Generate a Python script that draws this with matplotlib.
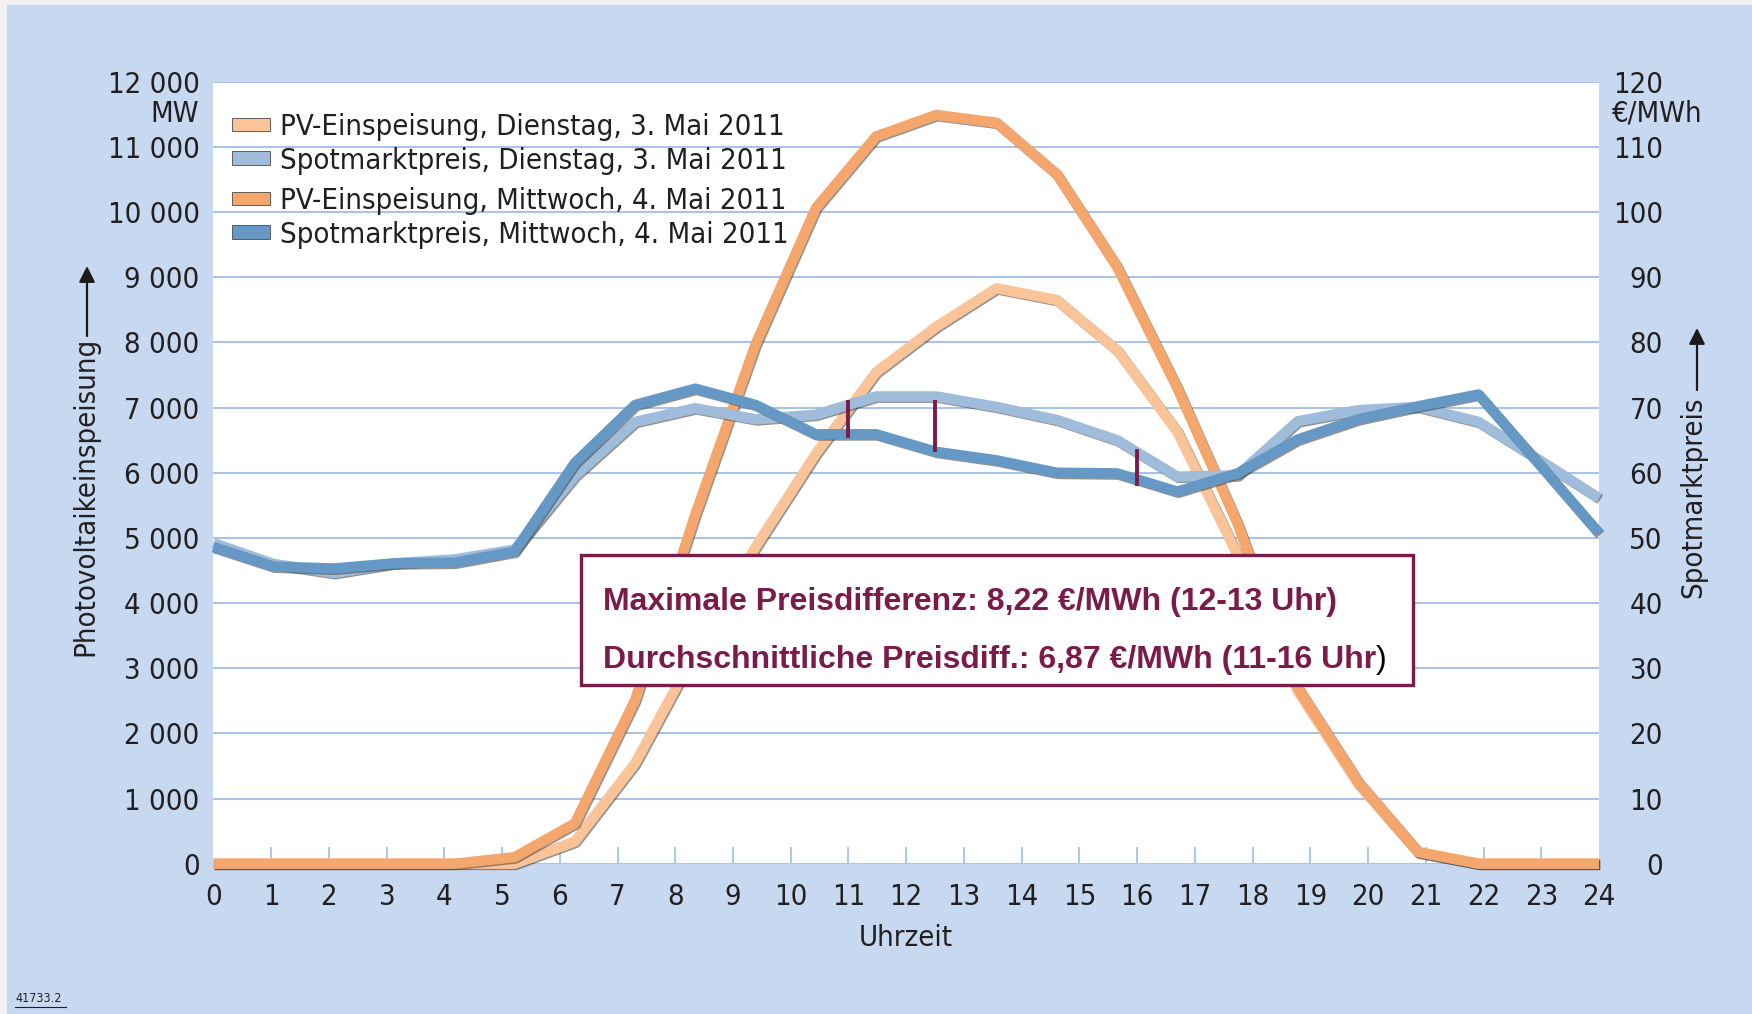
import numpy as np
import matplotlib
matplotlib.use("Agg")
import matplotlib.pyplot as plt
import matplotlib.patheffects as pe
from matplotlib.patches import Rectangle, Patch
from matplotlib.lines import Line2D

plt.rcParams['font.family'] = ['Liberation Sans Narrow', 'DejaVu Sans']
plt.rcParams['font.stretch'] = 'condensed'

# ---------------- data ----------------
n_points = 24
hours = np.linspace(0, 24, n_points)   # 24 hourly values spread over the 0..24 axis

pv_dienstag = [0, 0, 0, 0, 0, 0, 340, 1540, 3250, 4860, 6290, 7540,
               8240, 8830, 8650, 7880, 6630, 4740, 2650, 1230, 170, 0, 0, 0]
pv_mittwoch = [0, 0, 0, 0, 0, 100, 620, 2510, 5360, 7970, 10060, 11160,
               11490, 11370, 10580, 9160, 7300, 5220, 2700, 1260, 180, 0, 0, 0]
spot_dienstag = [49.2, 46.0, 44.6, 46.1, 46.7, 48.2, 59.5, 67.8, 69.9, 68.2, 68.9, 71.7,
                 71.7, 70.1, 68.1, 65.0, 59.4, 59.6, 67.9, 69.6, 70.1, 67.8, 62.0, 56.1]
spot_mittwoch = [48.6, 45.6, 45.3, 46.1, 46.2, 47.9, 61.5, 70.4, 72.9, 70.4, 65.9, 65.9,
                 63.2, 61.9, 60.0, 59.9, 57.1, 59.9, 65.1, 68.2, 70.2, 72.0, 61.4, 50.7]

labels = ["PV-Einspeisung, Dienstag, 3. Mai 2011",
          "Spotmarktpreis, Dienstag, 3. Mai 2011",
          "PV-Einspeisung, Mittwoch, 4. Mai 2011",
          "Spotmarktpreis, Mittwoch, 4. Mai 2011"]

marker_x = [11, 12.5, 16]
marker_lo = [65.4, 63.1, 58.0]
marker_hi = [71.2, 71.2, 63.7]

x_ticks = list(range(0, 25))
mw_ticks = list(range(0, 12001, 1000))
price_ticks = list(range(0, 121, 10))

note1 = "Maximale Preisdifferenz: 8,22 €/MWh (12-13 Uhr)"
note2 = "Durchschnittliche Preisdiff.: 6,87 €/MWh (11-16 Uhr"

# ---------------- style ----------------
c_pv_d = '#FAC398'
c_pv_m = '#F5A66C'
c_sp_d = '#A0BCDB'
c_sp_m = '#6698C5'
c_grid = '#A9C4E7'
c_panel = '#C6D9F0'
c_text = '#231F20'
c_note = '#7B1B4A'

FS = 21
NFS = 23
note_font = dict(family=['Liberation Sans', 'DejaVu Sans'], stretch='normal')

W, H = 1752, 1014
fig = plt.figure(figsize=(W / 100, H / 100), dpi=100)
fig.patch.set_facecolor('#F2F2F2')
fig.add_artist(Rectangle((7 / W, 0), 1 - 7 / W, 1 - 5 / H, transform=fig.transFigure,
                         facecolor=c_panel, edgecolor='none', zorder=-10))

left, right = 213.4, 1599.0
top, bottom = 81.7, 863.7
ax = fig.add_axes([left / W, 1 - bottom / H, (right - left) / W, (bottom - top) / H])
ax.set_facecolor('white')
ax.set_xlim(0, 24)
ax.set_ylim(0, 12000)
for s in ax.spines.values():
    s.set_visible(False)

ax.set_yticks(mw_ticks)
ax.set_yticklabels([f"{v:,}".replace(",", " ") for v in mw_ticks])
ax.set_xticks(x_ticks)
ax.set_xticklabels([str(v) for v in x_ticks])
ax.yaxis.grid(True, color=c_grid, lw=1.5)
ax.set_axisbelow(True)
ax.tick_params(axis='y', length=0, pad=10, labelsize=FS, labelcolor=c_text)
ax.tick_params(axis='x', direction='in', length=12, width=1.3, color=c_grid,
               pad=14, labelsize=FS, labelcolor=c_text)
xt = ax.xaxis.get_major_ticks()
for tk in (xt[0], xt[-1]):
    tk.tick1line.set_visible(False)
ax.set_xlabel("Uhrzeit", fontsize=FS, color=c_text, labelpad=9)

shadow = [pe.SimpleLineShadow(offset=(0.9, -0.9), shadow_color='#3a3a3a', alpha=0.55), pe.Normal()]
lw = 7.5
ax.plot(hours, pv_dienstag, color=c_pv_d, lw=lw, clip_on=False, solid_capstyle='butt',
        path_effects=shadow, zorder=3)
ax.plot(hours, pv_mittwoch, color=c_pv_m, lw=lw, clip_on=False, solid_capstyle='butt',
        path_effects=shadow, zorder=4)

ax2 = ax.twinx()
ax2.set_ylim(0, 120)
for s in ax2.spines.values():
    s.set_visible(False)
ax2.set_yticks(price_ticks)
ax2.set_yticklabels([str(v) for v in price_ticks])
ax2.tick_params(axis='y', length=0, pad=46, labelsize=FS, labelcolor=c_text)
for t in ax2.get_yticklabels():
    t.set_horizontalalignment('right')

ax2.plot(hours, spot_dienstag, color=c_sp_d, lw=lw, clip_on=False, solid_capstyle='butt',
         path_effects=shadow, zorder=3)
ax2.plot(hours, spot_mittwoch, color=c_sp_m, lw=lw, clip_on=False, solid_capstyle='butt',
         path_effects=shadow, zorder=4)
ax2.vlines(marker_x, marker_lo, marker_hi, color=c_note, lw=2.8, zorder=5)

# annotation box
bx0, bx1 = (581 - left) / (right - left), (1413 - left) / (right - left)
by0, by1 = (bottom - 685) / (bottom - top), (bottom - 555) / (bottom - top)
ax2.add_patch(Rectangle((bx0, by0), bx1 - bx0, by1 - by0, transform=ax2.transAxes,
                        facecolor='white', edgecolor=c_note, lw=2.4, zorder=6))
tx = (603 - left) / (right - left)
ax2.text(tx, (bottom - 602.5) / (bottom - top), note1, transform=ax2.transAxes,
         fontweight='bold', fontsize=NFS, color=c_note, ha='left', va='center', zorder=7,
         **note_font)
t2 = ax2.text(tx, (bottom - 660.5) / (bottom - top), note2, transform=ax2.transAxes,
              fontweight='bold', fontsize=NFS, color=c_note, ha='left', va='center', zorder=7,
              **note_font)
ax2.annotate(")", xy=(1, 0), xycoords=t2, ha='left', va='bottom',
             fontsize=NFS, color='black', zorder=7, **note_font)

# legends
handles = [Patch(facecolor=c, edgecolor='#4a4a4a', lw=0.6) for c in (c_pv_d, c_sp_d, c_pv_m, c_sp_m)]
leg_kw = dict(loc='upper left', bbox_transform=fig.transFigure, frameon=False, fontsize=FS,
              handlelength=1.3, handleheight=0.35, handletextpad=0.35, labelspacing=0.19,
              borderpad=0, borderaxespad=0)
leg1 = ax2.legend(handles[:2], labels[:2], bbox_to_anchor=(232 / W, 1 - 113 / H), **leg_kw)
ax2.add_artist(leg1)
leg2 = ax2.legend(handles[2:], labels[2:], bbox_to_anchor=(232 / W, 1 - 187 / H), **leg_kw)
for lg in (leg1, leg2):
    lg.set_zorder(8)
    for t in lg.get_texts():
        t.set_color(c_text)

# units
fig.text(199 / W, 1 - 114 / H, "MW", ha='right', va='center', fontsize=FS, color=c_text)
fig.text(1612 / W, 1 - 114 / H, "€/MWh", ha='left', va='center', fontsize=FS, color=c_text)

# axis titles with arrows
fig.text(85 / W, 1 - 496 / H, "Photovoltaikeinspeisung", rotation=90, ha='center', va='center',
         fontsize=FS, color=c_text)
fig.text(1693 / W, 1 - 497 / H, "Spotmarktpreis", rotation=90, ha='center', va='center',
         fontsize=FS, color=c_text)
arrow = dict(arrowstyle='-|>', lw=1.6, color='#1a1a1a', mutation_scale=24, shrinkA=0, shrinkB=0)
ax.annotate('', xy=(87 / W, 1 - 266 / H), xytext=(87 / W, 1 - 336 / H),
            xycoords='figure fraction', textcoords='figure fraction', arrowprops=arrow)
ax.annotate('', xy=(1697 / W, 1 - 328 / H), xytext=(1697 / W, 1 - 390 / H),
            xycoords='figure fraction', textcoords='figure fraction', arrowprops=arrow)

# figure id
fig.text(15 / W, 1 - 998 / H, "41733.2", ha='left', va='center', fontsize=9, color=c_text)
fig.add_artist(Line2D([15 / W, 66 / W], [1 - 1007 / H, 1 - 1007 / H], transform=fig.transFigure,
                      color=c_text, lw=0.8))

fig.savefig("out.png", dpi=100, facecolor=fig.get_facecolor())
